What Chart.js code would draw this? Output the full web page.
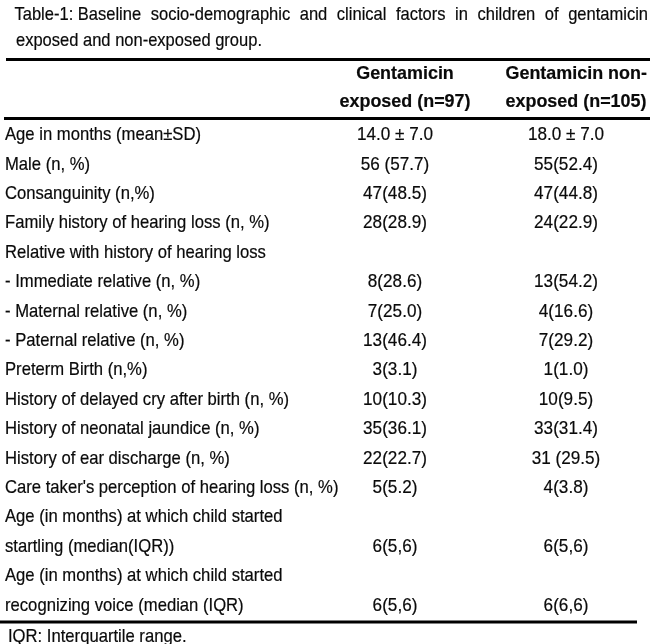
<!DOCTYPE html>
<html><head><meta charset="utf-8">
<script src="https://cdn.jsdelivr.net/npm/chart.js@4.4.1/dist/chart.umd.min.js"></script>
<style>html,body{margin:0;padding:0;background:#fff}#wrap{width:650px;height:644px;position:relative}</style>
</head><body><div id="wrap"><canvas id="c"></canvas></div>
<script>
// ---- data ----
const titleLine1Words = ["Table-1: Baseline", "socio-demographic", "and", "clinical", "factors", "in", "children", "of", "gentamicin"];
const titleLine2 = "exposed and non-exposed group.";
const headerExposed = ["Gentamicin", "exposed (n=97)"];
const headerNonExposed = ["Gentamicin non-", "exposed (n=105)"];
const rowLabels = [
  "Age in months (mean\u00B1SD)",
  "Male (n, %)",
  "Consanguinity (n,%)",
  "Family history of hearing loss (n, %)",
  "Relative with history of hearing loss",
  "- Immediate relative (n, %)",
  "- Maternal relative (n, %)",
  "- Paternal relative (n, %)",
  "Preterm Birth (n,%)",
  "History of delayed cry after birth (n, %)",
  "History of neonatal jaundice (n, %)",
  "History of ear discharge (n, %)",
  "Care taker's perception of hearing loss (n, %)",
  "Age (in months) at which child started",
  "startling (median(IQR))",
  "Age (in months) at which child started",
  "recognizing voice (median (IQR)"
];
const exposedValues = ["14.0 \u00B1 7.0","56 (57.7)","47(48.5)","28(28.9)","","8(28.6)","7(25.0)","13(46.4)","3(3.1)","10(10.3)","35(36.1)","22(22.7)","5(5.2)","","6(5,6)","","6(5,6)"];
const nonExposedValues = ["18.0 \u00B1 7.0","55(52.4)","47(44.8)","24(22.9)","","13(54.2)","4(16.6)","7(29.2)","1(1.0)","10(9.5)","33(31.4)","31 (29.5)","4(3.8)","","6(5,6)","","6(6,6)"];
const footnote = "IQR: Interquartile range.";

// ---- layout (style) ----
const ROW0 = 135.6, ROWH = 29.4;
const COL_LABEL = 5, COL_EXP = 395, COL_NON = 566, HDR_EXP = 405, HDR_NON_LEFT = 505.5;
const FONT = "18.5px 'Liberation Sans', Arial, sans-serif";
const BFONT = "bold 19px 'Liberation Sans', Arial, sans-serif";
const INK = "#0a0a0a";
const BASE_OFF = 4.6;
const rowOf = px => (px - ROW0) / ROWH;

function drawText(ctx, text, x, y, align, font, f) {
  ctx.save();
  ctx.font = font;
  const w = ctx.measureText(text).width * f;
  const x0 = align === 'center' ? x - w / 2 : (align === 'right' ? x - w : x);
  ctx.translate(x0, y);
  ctx.scale(f, 1);
  ctx.textAlign = 'left';
  ctx.textBaseline = 'alphabetic';
  ctx.fillStyle = INK;
  ctx.strokeStyle = INK;
  ctx.lineWidth = 0.2;
  ctx.fillText(text, 0, 0);
  ctx.strokeText(text, 0, 0);
  ctx.restore();
}

const tablePlugin = {
  id: 'tableText',
  afterDatasetsDraw(chart) {
    const ctx = chart.ctx;
    const xs = chart.scales.x, ys = chart.scales.y;
    const Y = v => ys.getPixelForValue(v);
    ctx.save();
    ctx.font = FONT;
    const mw = t => ctx.measureText(t).width;
    const f = (200 + 267 + 292 + 319) / (mw(rowLabels[0]) + mw(rowLabels[3]) + mw(rowLabels[9]) + mw(rowLabels[12]));
    const fv = (77 + 63) / (mw(exposedValues[0]) + mw(exposedValues[3]));
    ctx.font = BFONT;
    const fb = 141 / ctx.measureText(headerNonExposed[1]).width;

    // title line 1 justified
    ctx.font = FONT;
    const L = 14.5, R = 648;
    const ft = 246 / mw(titleLine2);
    const widths = titleLine1Words.map(w => mw(w) * ft);
    const total = widths.reduce((a, b) => a + b, 0);
    const gap = (R - L - total) / (titleLine1Words.length - 1);
    let cx = L;
    const t1y = Y(rowOf(15.8)) + BASE_OFF;
    titleLine1Words.forEach((w, i) => { drawText(ctx, w, cx, t1y, 'left', FONT, ft); cx += widths[i] + gap; });
    drawText(ctx, titleLine2, 16, Y(rowOf(41.5)) + BASE_OFF, 'left', FONT, ft);

    // rules
    ctx.fillStyle = '#000';
    const rule = (yv, x1, x2, h) => { const y = Y(yv); ctx.fillRect(xs.getPixelForValue(x1), y - h / 2, xs.getPixelForValue(x2) - xs.getPixelForValue(x1), h); };
    rule(rowOf(59.5), 6, 650, 3);
    rule(rowOf(118.5), 4, 650, 3);
    rule(rowOf(622), 0, 637, 3);

    // headers (baselines)
    const hb = [rowOf(78.5), rowOf(106.5)];
    headerExposed.forEach((t, i) => drawText(ctx, t, xs.getPixelForValue(HDR_EXP), Y(hb[i]), 'center', BFONT, fb));
    headerNonExposed.forEach((t, i) => drawText(ctx, t, xs.getPixelForValue(HDR_NON_LEFT), Y(hb[i]), 'left', BFONT, fb));

    // row labels
    rowLabels.forEach((t, i) => drawText(ctx, t, xs.getPixelForValue(COL_LABEL), Y(i) + BASE_OFF, 'left', FONT, f));

    // values via dataset elements
    chart.data.datasets.forEach((ds, di) => {
      const meta = chart.getDatasetMeta(di);
      meta.data.forEach((el, j) => {
        const txt = ds.texts[j];
        if (txt) drawText(ctx, txt, el.x, el.y + BASE_OFF, 'center', FONT, fv);
      });
    });

    drawText(ctx, footnote, 8, Y(rowOf(637)) + BASE_OFF, 'left', FONT, f);
    ctx.restore();
  }
};

new Chart(document.getElementById('c'), {
  type: 'scatter',
  data: {
    datasets: [
      { label: 'Gentamicin exposed (n=97)', data: exposedValues.map((v, i) => ({ x: COL_EXP, y: i })), texts: exposedValues, pointRadius: 0 },
      { label: 'Gentamicin non-exposed (n=105)', data: nonExposedValues.map((v, i) => ({ x: COL_NON, y: i })), texts: nonExposedValues, pointRadius: 0 }
    ]
  },
  options: {
    responsive: true,
    maintainAspectRatio: false,
    animation: false,
    layout: { padding: 0 },
    plugins: { legend: { display: false }, tooltip: { enabled: false }, title: { display: false } },
    scales: {
      x: { type: 'linear', min: 0, max: 650, display: false },
      y: { type: 'linear', reverse: true, min: rowOf(0), max: rowOf(644), display: false }
    }
  },
  plugins: [tablePlugin]
});
</script>
</body></html>
